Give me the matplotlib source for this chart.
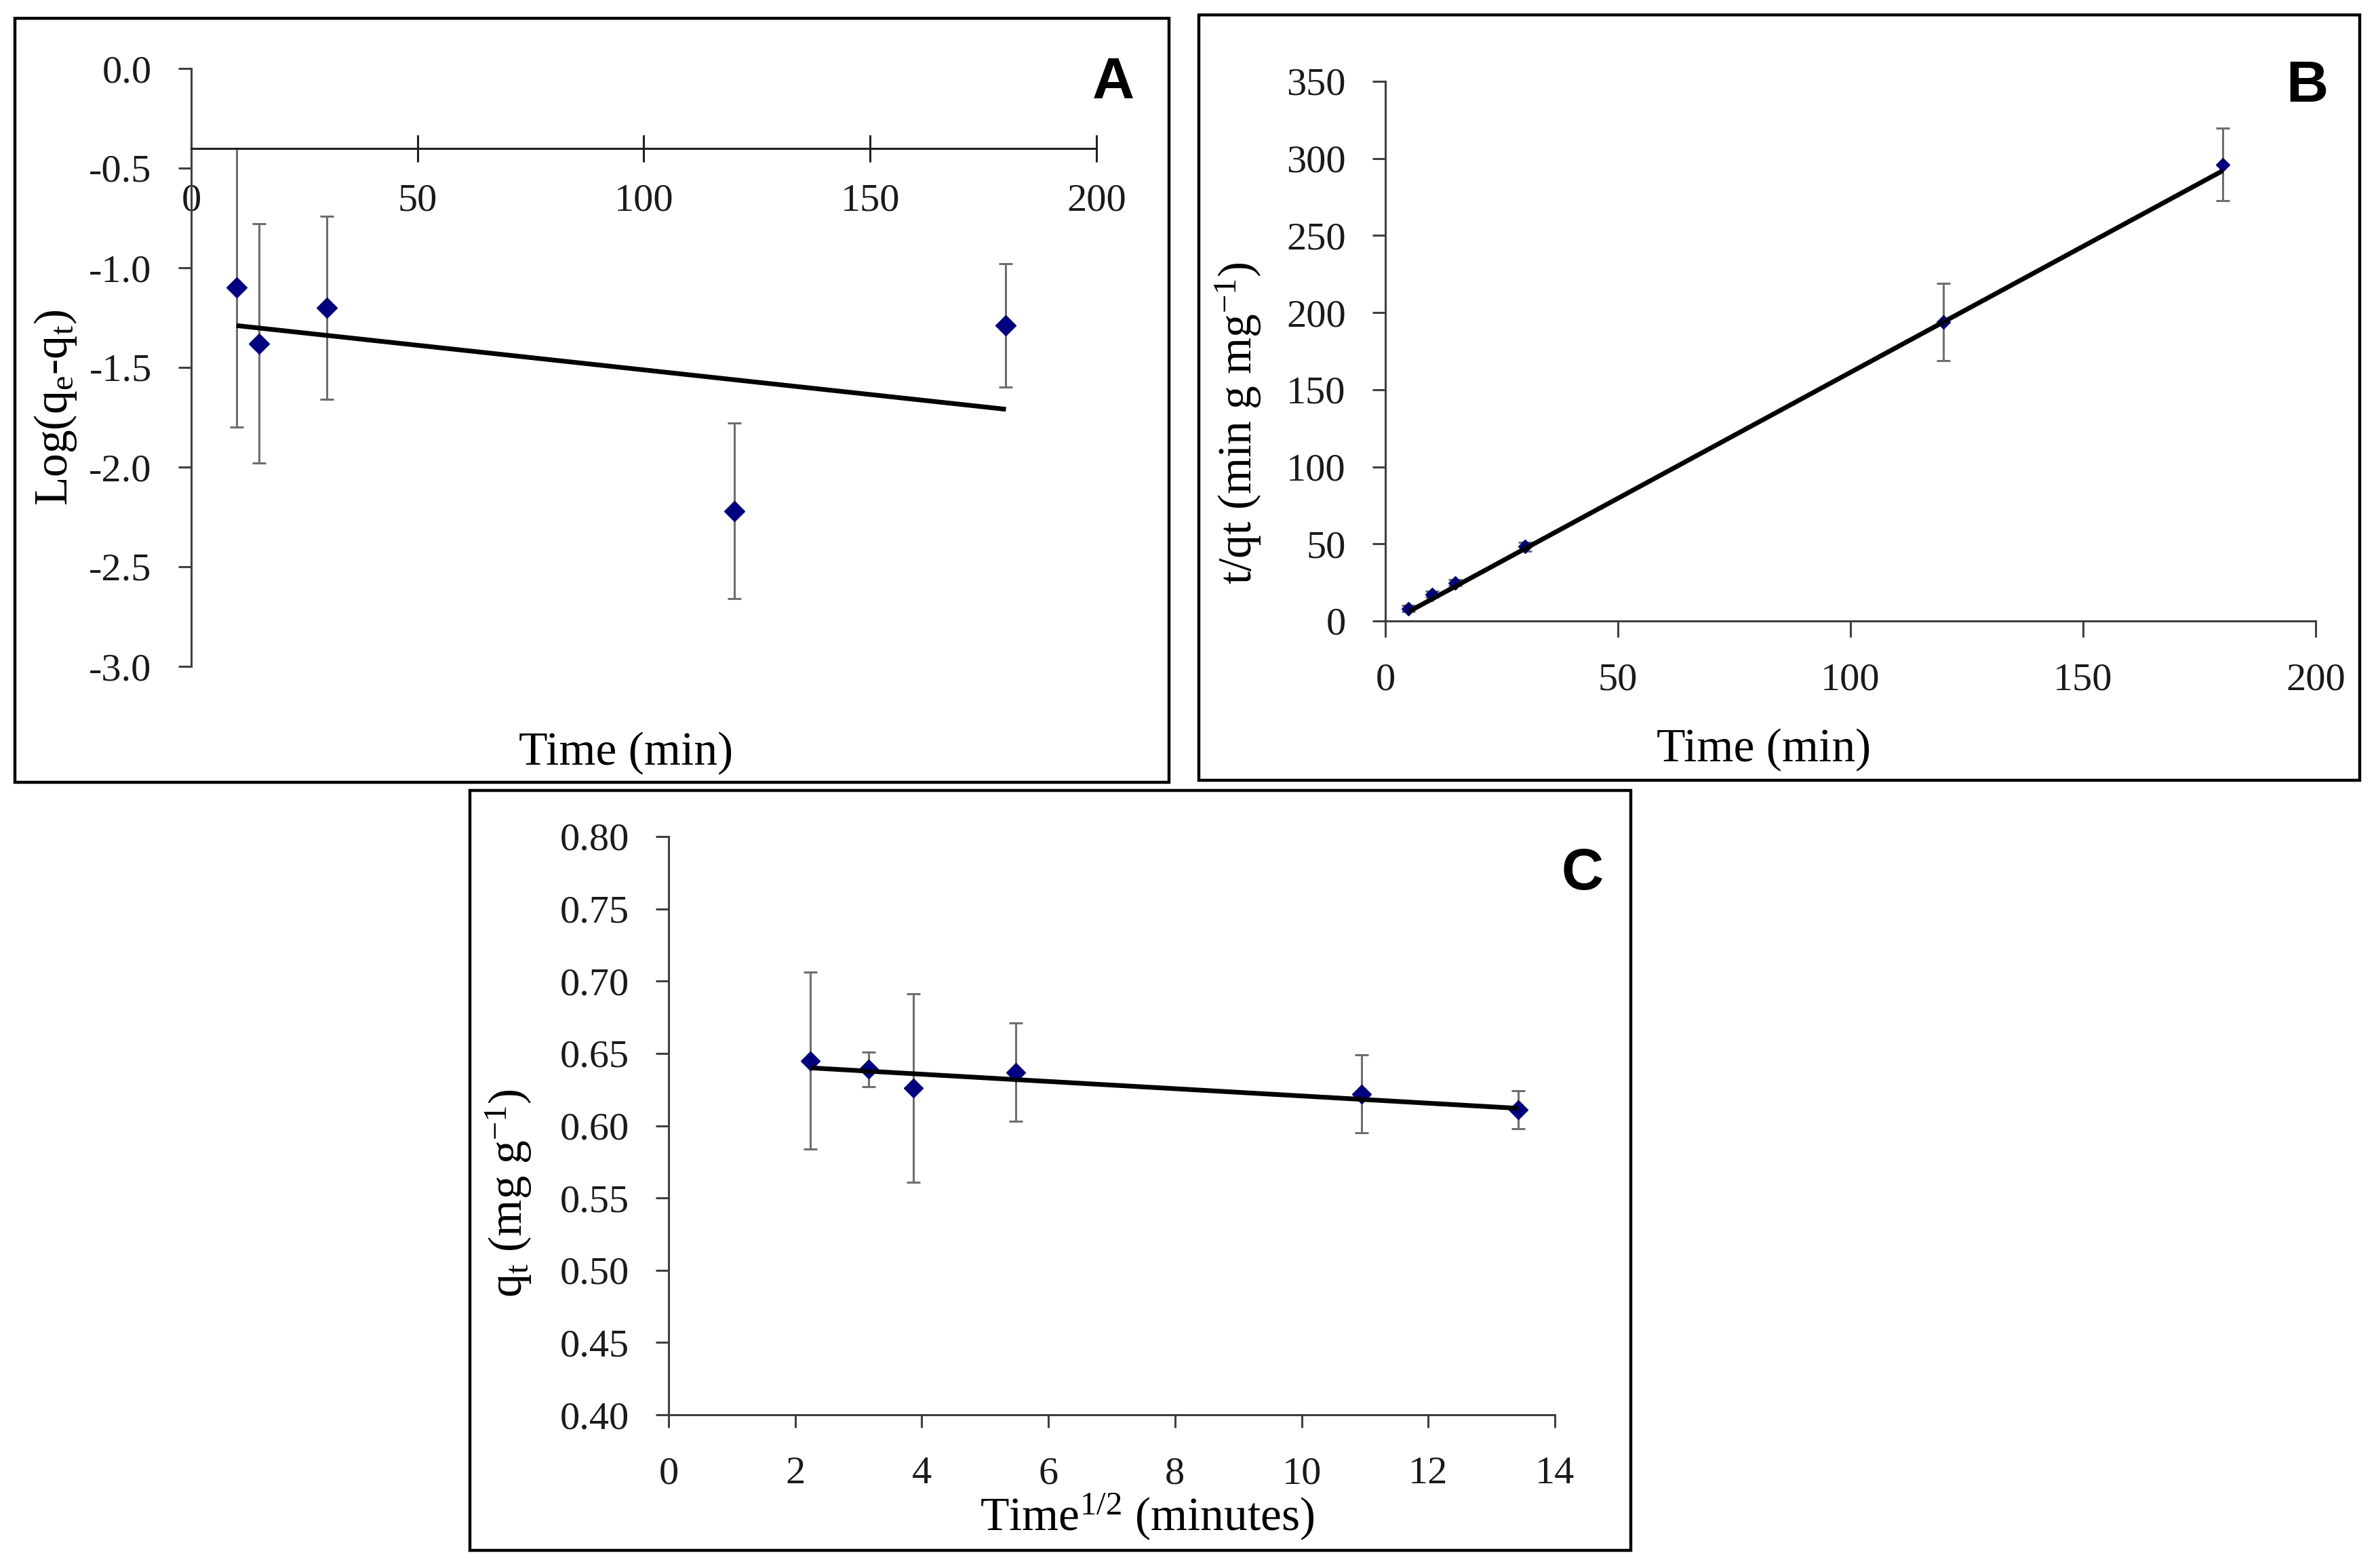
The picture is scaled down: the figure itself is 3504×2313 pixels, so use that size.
import matplotlib

matplotlib.use("Agg")
import matplotlib.pyplot as plt
from matplotlib.patches import Rectangle

W, H = 3505, 2313
DPI = 100

# panel A: pseudo-first-order, log(qe - qt) vs time
a_time = [10, 15, 30, 120, 180]
a_log = [-1.10, -1.38, -1.20, -2.22, -1.29]
a_err = [0.70, 0.60, 0.46, 0.44, 0.31]
a_fit_x = [10, 180]
a_fit_y = [-1.29, -1.71]

# panel B: pseudo-second-order, t/qt vs time
b_time = [5, 10, 15, 30, 120, 180]
b_tq = [8.0, 17.3, 24.8, 48.2, 194.0, 296.0]
b_err = [2.0, 2.0, 2.0, 3.0, 25.0, 23.5]
b_fit_x = [5, 180]
b_fit_y = [6.0, 292.0]

# panel C: intraparticle diffusion, qt vs sqrt(t)
c_sqrt_t = [2.24, 3.16, 3.87, 5.48, 10.95, 13.42]
c_qt = [0.645, 0.639, 0.626, 0.637, 0.622, 0.611]
c_err = [0.061, 0.012, 0.065, 0.034, 0.027, 0.013]
c_fit_x = [2.24, 13.42]
c_fit_y = [0.640, 0.612]

a_yticks = [-3.0, -2.5, -2.0, -1.5, -1.0, -0.5, 0.0]
a_xticks = [0, 50, 100, 150, 200]
b_yticks = [0, 50, 100, 150, 200, 250, 300, 350]
b_xticks = [0, 50, 100, 150, 200]
c_yticks = [0.40, 0.45, 0.50, 0.55, 0.60, 0.65, 0.70, 0.75, 0.80]
c_xticks = [0, 2, 4, 6, 8, 10, 12, 14]

plt.rcParams["font.family"] = ["Liberation Serif", "DejaVu Serif"]
plt.rcParams["mathtext.default"] = "regular"

AXIS_COLOR = "#404040"
MARKER_COLOR = "#000080"
ERR_COLOR = "#6e6e6e"
TICK_FS = 42
LABEL_FS = 50
LETTER_FS = 62


def px_box(left, top, right, bottom):
    """Pixel box (from top-left of the image) -> figure fraction rect."""
    return [left / W, 1 - bottom / H, (right - left) / W, (bottom - top) / H]


def style_axes(ax):
    ax.spines["top"].set_visible(False)
    ax.spines["right"].set_visible(False)
    for side in ("left", "bottom"):
        ax.spines[side].set_color(AXIS_COLOR)
        ax.spines[side].set_linewidth(2.2)
    ax.tick_params(colors=AXIS_COLOR, labelcolor="#1a1a1a", labelsize=TICK_FS, width=2.2)
    ax.tick_params(axis="y", direction="out", length=14, pad=28)


def draw_series(ax, x, y, err, fit_x, fit_y, ms):
    ax.errorbar(x, y, yerr=err, fmt="D", color=MARKER_COLOR, ms=ms, mec=MARKER_COLOR,
                ecolor=ERR_COLOR, elinewidth=2.2, capsize=7, capthick=2.2, zorder=2)
    ax.plot(fit_x, fit_y, color="black", lw=5, solid_capstyle="butt", zorder=3)


fig = plt.figure(figsize=(W / DPI, H / DPI), dpi=DPI)

# panel frames
for left, top, right, bottom in [(22, 27, 1724, 1154), (1768, 22, 3480, 1151), (693, 1166, 2405, 2287)]:
    l, b, w, h = px_box(left, top, right, bottom)
    fig.add_artist(Rectangle((l, b), w, h, transform=fig.transFigure, fill=False,
                             ec="black", lw=3.2))

# ---- A ----
ax_a = fig.add_axes(px_box(282, 101, 1617, 983))
style_axes(ax_a)
draw_series(ax_a, a_time, a_log, a_err, a_fit_x, a_fit_y, ms=15)
ax_a.set_xlim(0, 200)
ax_a.set_ylim(-3.0, 0.0)
ax_a.spines["bottom"].set_position(("data", -0.4))
ax_a.spines["bottom"].set_color("#202020")
ax_a.set_xticks(a_xticks)
ax_a.set_yticks(a_yticks)
ax_a.set_yticklabels([f"{v:.1f}" for v in a_yticks])
ax_a.tick_params(axis="x", direction="inout", length=29, pad=23, color="#202020")
ax_a.set_xlabel("Time (min)", fontsize=LABEL_FS, va="baseline")
ax_a.xaxis.set_label_coords(0.48, -0.164)
ax_a.set_ylabel(r"Log(q$_e$-q$_t$)", fontsize=LABEL_FS)
ax_a.yaxis.set_label_coords(-0.124, 0.433)

# ---- B ----
ax_b = fig.add_axes(px_box(2043, 120, 3415, 916))
style_axes(ax_b)
draw_series(ax_b, b_time, b_tq, b_err, b_fit_x, b_fit_y, ms=10)
ax_b.set_xlim(0, 200)
ax_b.set_ylim(0, 350)
ax_b.set_xticks(b_xticks)
ax_b.set_yticks(b_yticks)
ax_b.tick_params(axis="x", direction="out", length=17, pad=27)
ax_b.set_xlabel("Time (min)", fontsize=LABEL_FS, va="baseline")
ax_b.xaxis.set_label_coords(0.407, -0.26)
ax_b.set_ylabel(r"t/qt (min g mg$^{-1}$)", fontsize=LABEL_FS)
ax_b.yaxis.set_label_coords(-0.131, 0.366)

# ---- C ----
ax_c = fig.add_axes(px_box(986, 1234, 2293, 2087))
style_axes(ax_c)
draw_series(ax_c, c_sqrt_t, c_qt, c_err, c_fit_x, c_fit_y, ms=14)
ax_c.set_xlim(0, 14)
ax_c.set_ylim(0.40, 0.80)
ax_c.set_xticks(c_xticks)
ax_c.set_yticks(c_yticks)
ax_c.set_yticklabels([f"{v:.2f}" for v in c_yticks])
ax_c.tick_params(axis="x", direction="out", length=14, pad=30)
ax_c.set_xlabel(r"Time$^{1/2}$ (minutes)", fontsize=LABEL_FS, va="baseline")
ax_c.xaxis.set_label_coords(0.54, -0.2)
ax_c.set_ylabel(r"q$_t$ (mg g$^{-1}$)", fontsize=LABEL_FS)
ax_c.yaxis.set_label_coords(-0.152, 0.383)

# panel letters
for letter, x, y in [("A", 1642, 145), ("B", 3402, 150), ("C", 2334, 1312)]:
    fig.text(x / W, 1 - y / H, letter, ha="center", va="baseline", fontsize=LETTER_FS,
             fontweight="bold", family=["Liberation Sans", "DejaVu Sans"])

fig.savefig("out.png", dpi=DPI)
plt.close(fig)
